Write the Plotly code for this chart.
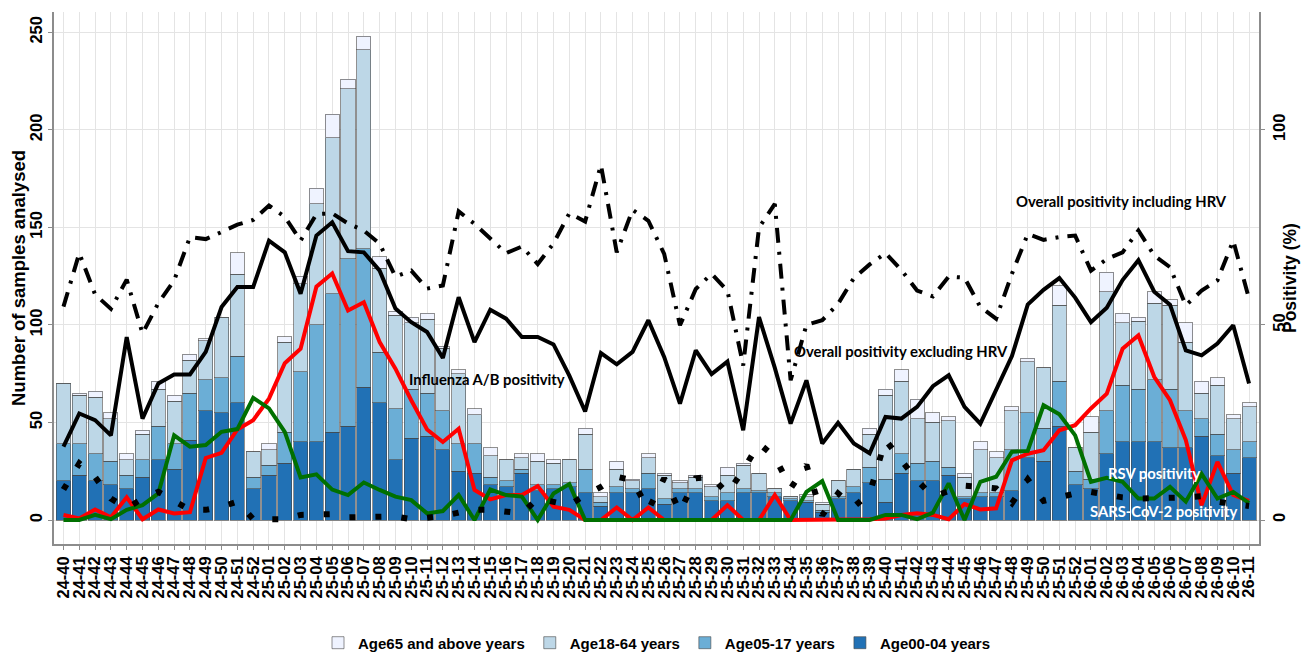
import plotly.graph_objects as go

weeks = ["24-40","24-41","24-42","24-43","24-44","24-45","24-46","24-47","24-48","24-49","24-50","24-51","24-52",
         "25-01","25-02","25-03","25-04","25-05","25-06","25-07","25-08","25-09","25-10","25-11","25-12","25-13",
         "25-14","25-15","25-16","25-17","25-18","25-19","25-20","25-21","25-22","25-23","25-24","25-25","25-26",
         "25-27","25-28","25-29","25-30","25-31","25-32","25-33","25-34","25-35","25-36","25-37","25-38","25-39",
         "25-40","25-41","25-42","25-43","25-44","25-45","25-46","25-47","25-48","25-49","25-50","25-51","25-52",
         "26-01","26-02","26-03","26-04","26-05","26-06","26-07","26-08","26-09","26-10","26-11"]

age00_04 = [20,23,20,18,16,22,31,26,41,56,55,60,16,23,29,40,40,45,48,68,60,31,42,43,36,25,24,18,17,24,15,16,17,14,7,14,14,16,8,14,14,10,10,14,14,12,10,9,4,11,14,19,9,24,20,20,23,11,12,12,15,32,30,48,18,16,34,40,40,40,37,37,43,33,24,32]
age05_17 = [19,16,14,12,7,9,17,13,24,16,18,24,6,5,16,36,60,71,86,71,26,26,25,22,20,14,15,4,3,2,3,2,2,12,2,3,2,8,3,2,2,2,4,2,1,2,1,1,1,1,3,8,12,10,9,10,4,1,2,2,21,23,17,23,7,5,22,29,27,32,30,19,9,11,12,8]
age18_64 = [31,25,29,22,8,13,19,22,17,20,31,42,13,8,46,45,62,80,87,102,43,48,34,38,32,36,15,11,11,6,12,11,12,18,3,9,4,8,12,3,6,5,9,12,9,2,1,2,3,8,9,17,43,37,23,20,24,10,22,18,20,26,31,39,12,24,61,32,35,39,43,35,13,25,16,18]
age65_up = [0,1,3,3,3,2,4,3,3,1,0,11,0,3,3,4,8,12,5,7,6,2,3,3,1,2,3,4,0,2,4,2,0,3,2,4,1,2,1,1,1,1,4,1,0,0,0,1,1,0,0,3,3,6,10,5,2,2,4,3,2,2,0,10,0,8,10,5,2,6,3,10,6,4,2,2]

pos_incl_hrv = [54.7,68.4,57.8,54.1,61.6,47.8,55.6,61.4,72.5,72.0,73.8,75.7,76.9,80.6,77.7,71.6,78.4,78.6,76.0,74.2,70.8,62.4,63.9,59.3,60.1,79.1,75.9,72.0,68.4,70.1,65.6,70.9,78.6,76.5,91.0,68.6,79.5,76.7,68.2,49.9,59.2,63.1,58.8,39.6,74.9,81.0,35.8,50.0,51.2,55.4,62.0,65.5,68.4,64.1,58.8,57.3,62.4,62.1,54.6,51.6,63.1,73.3,71.8,72.5,72.9,63.9,66.9,68.6,74.2,67.8,64.8,55.0,58.8,61.4,71.6,56.7]
pos_excl_hrv = [18.8,27.3,25.6,21.7,46.9,26.0,35.0,37.3,37.3,43.1,54.6,59.7,59.7,71.6,68.6,58.0,72.9,76.3,68.9,68.6,63.9,54.2,50.7,48.2,41.5,57.1,45.6,53.9,51.6,46.9,46.9,45.0,37.0,27.8,42.8,39.9,43.1,51.2,41.8,29.8,43.5,37.4,40.6,23.0,52.0,39.0,24.7,35.8,19.6,24.9,19.6,17.1,26.4,26.0,29.0,34.3,37.1,29.0,24.7,33.2,42.0,55.2,59.0,62.0,57.0,50.7,54.4,61.5,66.6,58.5,55.2,43.5,42.2,45.2,49.9,35.0]
pos_influenza = [1.3,0.4,2.7,0.7,5.8,0.2,2.7,1.7,2.0,15.9,17.2,23.2,25.6,31.1,40.2,43.9,59.8,63.2,53.7,55.8,45.6,38.8,30.7,23.2,20.0,23.4,7.7,5.3,6.4,6.4,8.7,3.4,2.6,0,0,3.2,0,3.2,0,0,0,0,3.8,0,0,6.4,0,0,0,0,0,0.2,0.4,1.3,1.7,1.3,0.2,4.1,2.7,3.0,15.3,17.0,17.9,23.0,24.3,28.6,32.4,43.9,47.3,36.7,30.7,20.5,3.8,14.9,6.4,4.9]
pos_rsv = [0,0,1.3,0.2,2.6,3.8,6.8,21.7,18.8,19.2,22.6,23.3,31.3,28.6,22.6,10.9,11.7,7.8,6.4,9.6,7.7,6.0,5.1,1.7,2.3,6.4,0,7.8,6.4,6.0,0,6.8,9.2,0,0,0,0,0,0,0,0,0,0,0,0,0,0,7.2,10.0,0,0,0,1.3,1.3,0.2,1.9,9.4,0,9.8,11.1,17.5,17.7,29.4,27.1,21.7,9.8,10.8,9.8,5.5,5.5,8.5,4.7,11.8,5.5,7.2,4.3]
pos_sars = [7.8,14.5,11.0,5.5,3.0,5.5,7.2,5.1,2.6,2.6,3.4,4.7,0.2,0.2,0.2,1.3,1.3,1.5,0.7,0.7,0.7,0.9,0.2,0.7,1.0,1.9,2.6,2.6,2.1,1.7,5.5,4.7,3.8,6.4,8.5,11.1,10.2,2.6,10.7,2.1,10.7,11.1,6.8,12.8,19.6,16.2,8.1,14.1,1.2,6.8,3.4,6.8,20.5,15.3,10.2,6.0,7.2,8.8,8.5,8.1,4.3,10.4,4.9,6.0,6.8,7.2,6.4,5.8,5.5,5.5,5.5,5.8,6.1,4.7,4.1,3.6]

left_ticks = [0, 50, 100, 150, 200, 250]
right_ticks = [0, 50, 100]

TICKFONT = dict(family="Liberation Sans, Arial", size=16.5, color="black", weight="bold")
TITLEFONT = dict(family="Liberation Sans, Arial", size=18.5, color="black", weight="bold")
ANNFONT = "Lato, Open Sans, sans-serif"

fig = go.Figure()

bar_specs = [
    ("Age00-04 years", age00_04, "#2171b5"),
    ("Age05-17 years", age05_17, "#6baed6"),
    ("Age18-64 years", age18_64, "#bdd7e7"),
    ("Age65 and above years", age65_up, "#eff3ff"),
]
for name, vals, col in bar_specs:
    fig.add_trace(go.Bar(x=weeks, y=vals, name=name,
                         marker=dict(color=col, line=dict(color="rgba(70,70,70,0.6)", width=1)),
                         yaxis="y"))

fig.add_trace(go.Scatter(x=weeks, y=pos_incl_hrv, mode="lines", yaxis="y2", showlegend=False,
                         line=dict(color="black", width=4, dash="15px,9px,3px,9px")))
fig.add_trace(go.Scatter(x=weeks, y=pos_excl_hrv, mode="lines", yaxis="y2", showlegend=False,
                         line=dict(color="black", width=4)))
fig.add_trace(go.Scatter(x=weeks, y=pos_influenza, mode="lines", yaxis="y2", showlegend=False,
                         line=dict(color="#ff0000", width=4)))
fig.add_trace(go.Scatter(x=weeks, y=pos_rsv, mode="lines", yaxis="y2", showlegend=False,
                         line=dict(color="#007000", width=4)))
fig.add_trace(go.Scatter(x=weeks, y=pos_sars, mode="lines", yaxis="y2", showlegend=False,
                         line=dict(color="black", width=6, dash="6px,20px")))

anns = [
    ("Influenza A/B positivity", 26.8, 36.1, "black"),
    ("Overall positivity excluding HRV", 53.0, 43.2, "black"),
    ("Overall positivity including HRV", 66.9, 81.8, "black"),
    ("RSV positivity", 69.0, 12.0, "white"),
    ("SARS-CoV-2 positivity", 69.6, 2.3, "white"),
]
for txt, ax, ay, col in anns:
    fig.add_annotation(text=txt, x=ax, y=ay, xref="x", yref="y2", showarrow=False,
                       xanchor="center", yanchor="middle",
                       font=dict(family=ANNFONT, size=14.8, color=col, weight="bold"))

# axis titles placed as rotated texts
fig.add_annotation(text="Number of samples analysed", xref="paper", yref="paper",
                   x=(18 - 54) / 1205, y=0.5, xanchor="center", yanchor="middle",
                   textangle=-90, showarrow=False, font=TITLEFONT)
fig.add_annotation(text="Positivity (%)", xref="paper", yref="paper",
                   x=(1290 - 54) / 1205, y=0.5, xanchor="center", yanchor="middle",
                   textangle=-90, showarrow=False,
                   font=dict(family="Liberation Sans, Arial", size=17.5, color="black", weight="bold"))

axis_common = dict(showline=True, linecolor="#8c8c8c", linewidth=1.5,
                   ticks="outside", ticklen=4, tickcolor="#8c8c8c", automargin=False)

fig.update_layout(
    width=1302, height=652,
    margin=dict(l=54, r=43, t=12, b=108, autoexpand=False),
    paper_bgcolor="white", plot_bgcolor="white",
    barmode="stack", bargap=0.11,
    xaxis=dict(type="category", range=[-0.6, 75.63], tickangle=-90, tickfont=TICKFONT,
               tickmode="array", tickvals=weeks, ticktext=weeks,
               showgrid=True, gridcolor="#e4e4e4", gridwidth=1, **axis_common),
    yaxis=dict(range=[-12.3, 260.4], tickvals=left_ticks, tickangle=-90, tickfont=TICKFONT,
               showgrid=True, gridcolor="#e4e4e4", gridwidth=1, zeroline=False, **axis_common),
    yaxis2=dict(range=[-6.15, 130.2], tickvals=right_ticks, tickangle=-90, tickfont=TICKFONT,
                overlaying="y", side="right", showgrid=False, zeroline=False, **axis_common),
    legend=dict(orientation="h", x=0.5, xanchor="center", y=-0.186, yanchor="middle",
                traceorder="reversed",
                font=dict(family="Liberation Sans, Arial", size=15, color="black", weight="bold")),
)

fig.write_html("out.html", config={"displayModeBar": False},
               post_script="document.body.style.margin='0px';document.body.style.overflow='hidden';")
